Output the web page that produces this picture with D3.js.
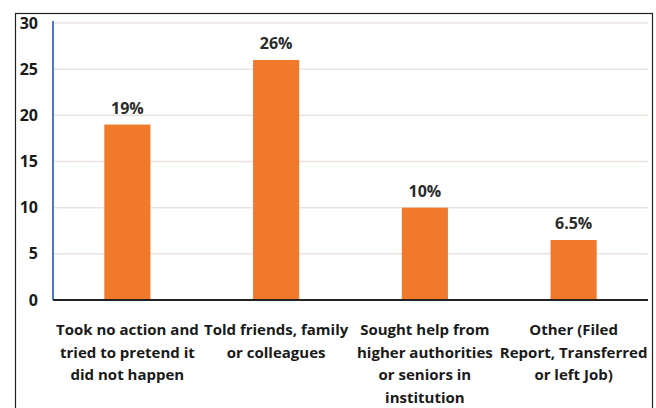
<!DOCTYPE html>
<html>
<head>
<meta charset="utf-8">
<script src="https://cdn.jsdelivr.net/npm/d3@7"></script>
<style>
  body { margin: 0; background: #fff; }
  svg text { font-family: "Open Sans", sans-serif; font-weight: 700; }
</style>
</head>
<body>
<svg id="chart" width="656" height="408"></svg>
<script>
const categories = [
  ["Took no action and", "tried to pretend it", "did not happen"],
  ["Told friends, family", "or colleagues"],
  ["Sought help from", "higher authorities", "or seniors in", "institution"],
  ["Other (Filed", "Report, Transferred", "or left Job)"],
];
const values = [19, 26, 10, 6.5];
const valueLabels = ["19%", "26%", "10%", "6.5%"];
const yTicks = [0, 5, 10, 15, 20, 25, 30];

const svg = d3.select("#chart");
const plot = { left: 53, right: 648, top: 23, bottom: 300 };

// outer frame
svg.append("rect")
  .attr("x", 15.5).attr("y", 13.5)
  .attr("width", 637).attr("height", 400)
  .attr("fill", "none").attr("stroke", "#222").attr("stroke-width", 1.2);

const x = d3.scaleBand()
  .domain(d3.range(values.length))
  .range([plot.left, plot.right])
  .paddingInner(0.69).paddingOuter(0.345);

const y = d3.scaleLinear().domain([0, 30]).range([plot.bottom, plot.top]);

// gridlines
svg.append("g")
  .selectAll("line")
  .data(yTicks.filter(d => d > 0))
  .join("line")
  .attr("x1", plot.left).attr("x2", plot.right)
  .attr("y1", d => y(d)).attr("y2", d => y(d))
  .attr("stroke", "#ebe3e0").attr("stroke-width", 1.5);

// y tick labels
svg.append("g")
  .selectAll("text")
  .data(yTicks)
  .join("text")
  .attr("x", 38)
  .attr("y", d => y(d))
  .attr("dy", "0.35em")
  .attr("text-anchor", "end")
  .attr("font-size", 16)
  .attr("fill", "#1a1a1a")
  .text(d => d);

// bars
svg.append("g")
  .selectAll("rect")
  .data(values)
  .join("rect")
  .attr("x", (d, i) => x(i))
  .attr("y", d => y(d))
  .attr("width", x.bandwidth())
  .attr("height", d => y(0) - y(d))
  .attr("fill", "#f0792b");

// value labels
svg.append("g")
  .selectAll("text")
  .data(values)
  .join("text")
  .attr("x", (d, i) => x(i) + x.bandwidth() / 2)
  .attr("y", d => y(d) - 11)
  .attr("text-anchor", "middle")
  .attr("font-size", 16)
  .attr("fill", "#2a2a2a")
  .text((d, i) => valueLabels[i]);

// axes lines
svg.append("line")
  .attr("x1", plot.left).attr("x2", plot.left)
  .attr("y1", plot.top - 2).attr("y2", plot.bottom)
  .attr("stroke", "#4a7cc4").attr("stroke-width", 2);

svg.append("line")
  .attr("x1", plot.left).attr("x2", plot.right)
  .attr("y1", plot.bottom).attr("y2", plot.bottom)
  .attr("stroke", "#222").attr("stroke-width", 2);

// category labels
const cat = svg.append("g")
  .selectAll("text")
  .data(categories)
  .join("text")
  .attr("x", (d, i) => x(i) + x.bandwidth() / 2)
  .attr("y", 335)
  .attr("text-anchor", "middle")
  .attr("font-size", 15)
  .attr("fill", "#1a1a1a");

cat.selectAll("tspan")
  .data(d => d)
  .join("tspan")
  .attr("x", function () { return d3.select(this.parentNode).attr("x"); })
  .attr("dy", (d, i) => i === 0 ? 0 : 22.5)
  .text(d => d);
</script>
</body>
</html>
